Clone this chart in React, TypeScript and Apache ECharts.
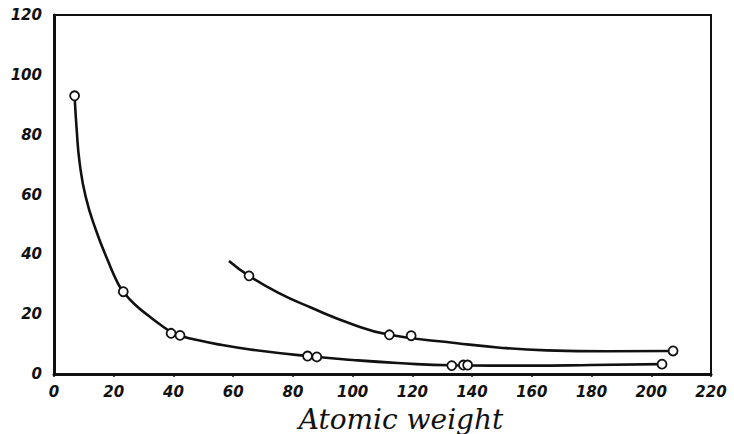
import React, { useEffect, useRef } from "react";
import * as echarts from "echarts";

const xTicks = [0, 20, 40, 60, 80, 100, 120, 140, 160, 180, 200, 220];
const yTicks = [0, 20, 40, 60, 80, 100, 120];

// Smooth curve
const lowerCurve: [number, number][] = [
  [6.9, 93], [7.6, 81.6], [8.6, 70.5], [10.6, 59.3], [14.0, 48.2], [18.4, 37],
  [21.4, 30.3], [23.2, 27.5], [27, 23.3], [32, 19.2], [36, 16.2], [39.2, 14.1],
  [42.2, 12.8], [46, 11.8], [55, 9.9], [65.7, 8.2], [85, 6], [100, 4.7], [115, 3.7],
  [133, 2.9], [160, 2.8], [180, 3.0], [203.6, 3.3],
];
const lowerPoints: [number, number][] = [
  [6.9, 93], [23.2, 27.5], [39.2, 13.6], [42.2, 12.9], [84.9, 6.0], [88, 5.7],
  [133.2, 2.8], [137.1, 3.0], [138.5, 3.0], [203.6, 3.3],
];

const upperCurve: [number, number][] = [
  [58.6, 37.8], [65.3, 32.8], [75, 27.2], [85.8, 22.3], [99.2, 16.9], [112.3, 13.1],
  [135, 10.3], [149.4, 8.8], [165, 7.9], [185, 7.6], [207.3, 7.7],
];
const upperPoints: [number, number][] = [
  [65.3, 32.8], [112.3, 13.1], [119.6, 12.8], [207.3, 7.7],
];

const xTitle = "Atomic weight";

export default function App() {
  const ref = useRef<HTMLDivElement>(null);
  useEffect(() => {
    if (!ref.current) return;
    const chart = echarts.init(ref.current, null, { renderer: "svg" });
    const ink = "#111";
    const labelStyle = {
      color: ink,
      fontFamily: "DejaVu Sans",
      fontStyle: "oblique" as const,
      fontWeight: "bold" as const,
      fontSize: 15,
    };
    const lineSeries = (data: [number, number][]) => ({
      type: "line",
      data,
      smooth: 0.5,
      showSymbol: false,
      symbol: "none",
      lineStyle: { color: ink, width: 2.6 },
      z: 2,
    });
    const pointSeries = (data: [number, number][]) => ({
      type: "scatter",
      data,
      symbol: "circle",
      symbolSize: 9,
      itemStyle: { color: "#fff", borderColor: ink, borderWidth: 1.8, opacity: 1 },
      z: 3,
    });
    chart.setOption({
      animation: false,
      backgroundColor: "#fff",
      grid: {
        left: 54,
        top: 15,
        right: 23,
        bottom: 60,
        show: true,
        borderColor: ink,
        borderWidth: 2,
        backgroundColor: "transparent",
      },
      xAxis: {
        type: "value",
        min: 0,
        max: 220,
        interval: 20,
        axisLine: { show: true, onZero: false, lineStyle: { color: ink, width: 3 } },
        axisTick: { show: true, length: 3, lineStyle: { color: ink, width: 1.5 } },
        splitLine: { show: false },
        axisLabel: {
          ...labelStyle,
          margin: 10,
          formatter: (v: number) => (xTicks.includes(v) ? String(v) : ""),
        },
      },
      yAxis: {
        type: "value",
        min: 0,
        max: 120,
        interval: 20,
        axisLine: { show: true, onZero: false, lineStyle: { color: ink, width: 3 } },
        axisTick: { show: false },
        splitLine: { show: false },
        axisLabel: {
          ...labelStyle,
          margin: 12,
          formatter: (v: number) => (yTicks.includes(v) ? String(v) : ""),
        },
      },
      graphic: [
        {
          type: "text",
          x: 401,
          y: 419,
          style: {
            text: xTitle,
            fill: ink,
            font: "italic 28px 'DejaVu Serif'",
            textAlign: "center",
            textVerticalAlign: "middle",
          },
        },
      ],
      series: [
        lineSeries(lowerCurve),
        lineSeries(upperCurve),
        pointSeries(lowerPoints),
        pointSeries(upperPoints),
      ],
    });
    return () => chart.dispose();
  }, []);
  return <div ref={ref} style={{ width: 734, height: 434, position: "absolute", left: 0, top: 0 }} />;
}
